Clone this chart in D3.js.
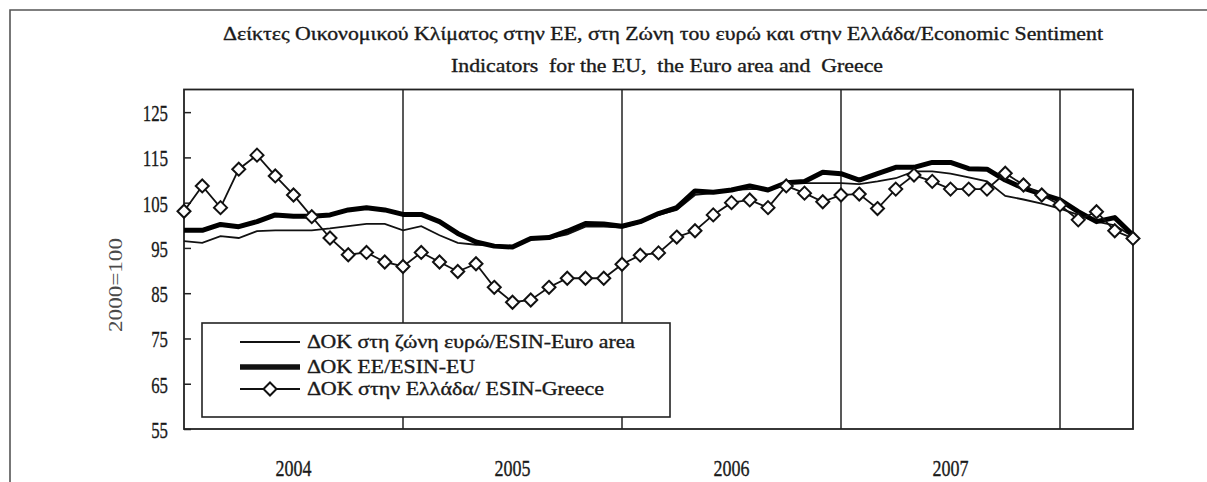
<!DOCTYPE html>
<html>
<head>
<meta charset="utf-8">
<script src="https://cdn.jsdelivr.net/npm/d3@7"></script>
<style>
    body { margin: 0; background: #fff; }
    text { font-family: "Liberation Serif", "Times New Roman", serif; fill: #1a1a1a; white-space: pre; }
    .dark { stroke: #1a1a1a; stroke-width: 0.35; }
</style>
</head>
<body>
<svg id="chart"></svg>
<script>
// monthly index, Jan 2004 .. May 2008
const years = ["2004", "2005", "2006", "2007"];
const yTicks = [55, 65, 75, 85, 95, 105, 115, 125];

const euroArea = [96.5, 96.1, 97.6, 97.2, 98.7, 98.9, 98.9, 98.9, 99.3, 99.8, 100.3, 100.3,
    98.9, 99.8, 97.8, 96.1, 95.7, 95.6, 95.2, 96.9, 97.1, 98.0, 99.7, 99.7,
    99.5, 100.6, 102.3, 103.4, 106.7, 107.1, 107.8, 108.0, 108.0, 109.3, 109.3, 109.3,
    109.3, 109.1, 109.7, 110.4, 111.9, 111.9, 111.4, 110.6, 109.7, 106.5, 105.7, 104.8,
    103.7, 102.3, 100.8, 100.0, 97.5];
const eu = [98.9, 98.9, 100.2, 99.7, 100.8, 102.3, 102.0, 102.0, 102.3, 103.4, 103.9, 103.4,
    102.4, 102.4, 100.8, 98.2, 96.3, 95.4, 95.2, 97.1, 97.3, 98.7, 100.4, 100.3,
    99.8, 100.8, 102.6, 103.9, 107.6, 107.3, 107.8, 108.7, 107.8, 109.4, 109.7, 111.7,
    111.4, 110.0, 111.4, 112.8, 112.8, 113.9, 113.9, 112.5, 112.4, 110.0, 108.2, 106.9,
    105.6, 103.0, 100.8, 101.7, 97.8];
const greece = [103.1, 108.7, 103.9, 112.4, 115.5, 110.9, 106.7, 101.9, 97.2, 93.5, 94.0, 91.9,
    90.9, 94.0, 91.9, 89.8, 91.5, 86.3, 83.0, 83.5, 86.3, 88.3, 88.3, 88.3,
    91.4, 93.4, 93.9, 97.4, 98.8, 102.3, 105.0, 105.6, 103.9, 108.7, 107.1, 105.2,
    106.7, 106.9, 103.7, 108.0, 111.1, 109.7, 108.0, 108.0, 108.0, 111.5, 108.9, 106.7,
    104.5, 101.2, 103.0, 98.8, 97.1];

const seriesNames = [
    "ΔΟΚ στη ζώνη ευρώ/ESIN-Euro area",
    "ΔΟΚ ΕΕ/ESIN-EU",
    "ΔΟΚ στην Ελλάδα/ ESIN-Greece"
];

const width = 1207, height = 482;
const plotL = 184, plotR = 1133, plotT = 89.5, plotB = 429;

const svg = d3.select("#chart")
    .attr("width", width)
    .attr("height", height);

const x = d3.scaleLinear().domain([0, euroArea.length - 1]).range([plotL, plotR]);
const y = d3.scaleLinear().domain([55, 130]).range([plotB, plotT]);

// outer frame (cropped: only left and top visible)
svg.append("path")
    .attr("d", `M10 482 V10 H1207`)
    .attr("fill", "none")
    .attr("stroke", "#555")
    .attr("stroke-width", 1.6);

// title
const title = svg.append("g").attr("class", "dark");
title.append("text")
    .attr("x", 223).attr("y", 40)
    .attr("font-size", 18.5)
    .attr("textLength", 880).attr("lengthAdjust", "spacingAndGlyphs")
    .text("Δείκτες Οικονομικού Κλίματος στην ΕΕ, στη Ζώνη του ευρώ και στην Ελλάδα/Economic Sentiment");
title.append("text")
    .attr("x", 451).attr("y", 72)
    .attr("font-size", 18.5)
    .attr("textLength", 432).attr("lengthAdjust", "spacingAndGlyphs")
    .text("Indicators  for the EU,  the Euro area and  Greece");

// plot frame
svg.append("rect")
    .attr("x", plotL).attr("y", plotT)
    .attr("width", plotR - plotL).attr("height", plotB - plotT)
    .attr("fill", "none")
    .attr("stroke", "#222")
    .attr("stroke-width", 1.8);

// year separators
svg.selectAll(".sep")
    .data(years.map((d, i) => (i + 1) * 12))
    .enter().append("line")
    .attr("class", "sep")
    .attr("x1", d => x(d)).attr("x2", d => x(d))
    .attr("y1", plotT).attr("y2", plotB)
    .attr("stroke", "#222")
    .attr("stroke-width", 1.5);

// y axis: inward ticks, labels on the left
const yAxis = svg.append("g")
    .attr("transform", `translate(${plotL} 0)`)
    .call(d3.axisRight(y).tickValues(yTicks).tickSize(7).tickFormat(""));
yAxis.select(".domain").remove();
yAxis.selectAll(".tick line").attr("stroke", "#222").attr("stroke-width", 1.5);

svg.selectAll(".ylab")
    .data(yTicks)
    .enter().append("text")
    .attr("class", "ylab dark")
    .attr("x", 168)
    .attr("y", d => y(d) + 9)
    .attr("text-anchor", "end")
    .attr("font-size", 24)
    .attr("textLength", d => String(d).length * 8.4)
    .attr("lengthAdjust", "spacingAndGlyphs")
    .text(d => d);

svg.append("text")
    .attr("transform", `translate(122 285) rotate(-90)`)
    .attr("text-anchor", "middle")
    .attr("font-size", 19)
    .attr("textLength", 94).attr("lengthAdjust", "spacingAndGlyphs")
    .style("fill", "#4a4a4a")
    .text("2000=100");

// year labels
svg.selectAll(".year")
    .data(years)
    .enter().append("text")
    .attr("class", "year dark")
    .attr("x", (d, i) => x(i * 12 + 6))
    .attr("y", 476)
    .attr("text-anchor", "middle")
    .attr("font-size", 24)
    .attr("textLength", 36).attr("lengthAdjust", "spacingAndGlyphs")
    .text(d => d);

// series
const line = d3.line().x((d, i) => x(i)).y(d => y(d));

svg.append("path")
    .datum(euroArea)
    .attr("d", line)
    .attr("fill", "none")
    .attr("stroke", "#111")
    .attr("stroke-width", 1.8);

svg.append("path")
    .datum(eu)
    .attr("d", line)
    .attr("fill", "none")
    .attr("stroke", "#000")
    .attr("stroke-width", 5)
    .attr("stroke-linejoin", "round");

svg.append("path")
    .datum(greece)
    .attr("d", line)
    .attr("fill", "none")
    .attr("stroke", "#111")
    .attr("stroke-width", 1.8);

const diamond = "M0 -6.5 L6.5 0 L0 6.5 L-6.5 0 Z";

svg.selectAll(".gr")
    .data(greece)
    .enter().append("path")
    .attr("class", "gr")
    .attr("d", diamond)
    .attr("transform", (d, i) => `translate(${x(i)} ${y(d)})`)
    .attr("fill", "#fff")
    .attr("stroke", "#111")
    .attr("stroke-width", 2);

// legend
const legend = svg.append("g");
legend.append("rect")
    .attr("x", 202).attr("y", 323)
    .attr("width", 468).attr("height", 94)
    .attr("fill", "#fff")
    .attr("stroke", "#222")
    .attr("stroke-width", 1.6);

const legendRows = [
    {name: seriesNames[0], cy: 342, w: 1.8, marker: false, tl: 328},
    {name: seriesNames[1], cy: 367, w: 5.5, marker: false, tl: 168},
    {name: seriesNames[2], cy: 389, w: 1.8, marker: true, tl: 297}
];

const rows = legend.selectAll(".row")
    .data(legendRows)
    .enter().append("g")
    .attr("class", "row");

rows.append("line")
    .attr("x1", 240).attr("x2", 300)
    .attr("y1", d => d.cy).attr("y2", d => d.cy)
    .attr("stroke", "#111")
    .attr("stroke-width", d => d.w);

rows.filter(d => d.marker).append("path")
    .attr("d", diamond)
    .attr("transform", d => `translate(270 ${d.cy})`)
    .attr("fill", "#fff")
    .attr("stroke", "#111")
    .attr("stroke-width", 2);

rows.append("text")
    .attr("class", "dark")
    .attr("x", 307)
    .attr("y", d => d.cy + 5.5)
    .attr("font-size", 19)
    .attr("textLength", d => d.tl)
    .attr("lengthAdjust", "spacingAndGlyphs")
    .text(d => d.name);
</script>
</body>
</html>
